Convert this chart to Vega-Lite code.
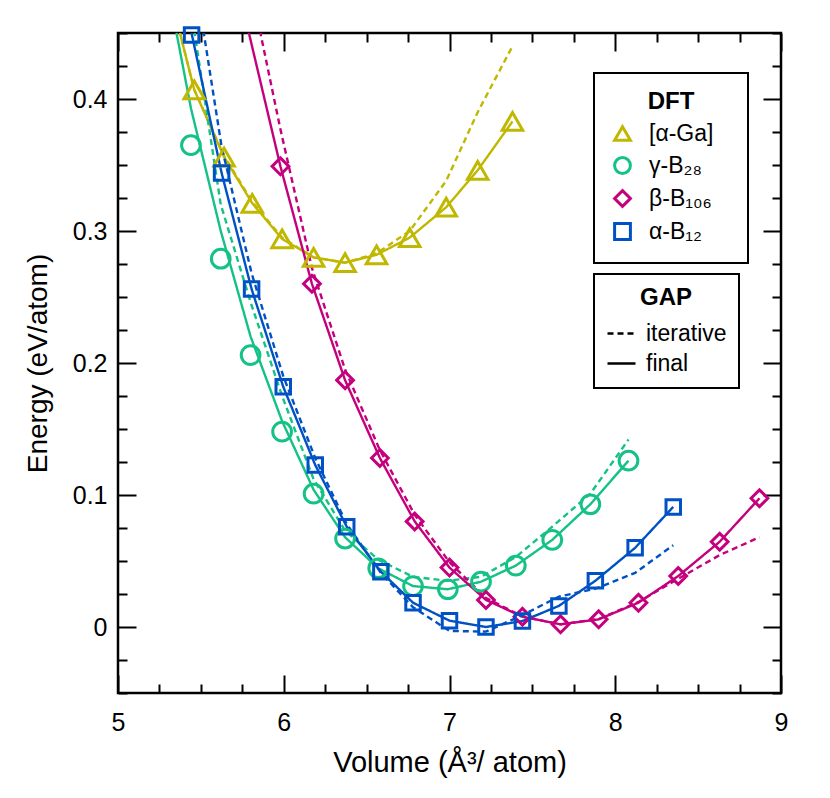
{
  "$schema": "https://vega.github.io/schema/vega-lite/v6.json",
  "width": 663,
  "height": 660,
  "autosize": {"type": "none"},
  "padding": {"left": 118, "top": 33, "right": 49, "bottom": 105},
  "background": "white",
  "config": {
    "font": "Liberation Sans",
    "view": {"stroke": "black", "strokeWidth": 2.5},
    "axis": {
      "domain": false,
      "grid": false,
      "tickColor": "black",
      "tickWidth": 2,
      "labelColor": "black",
      "labelFont": "Liberation Sans",
      "labelFontSize": 25,
      "titleFont": "Liberation Sans",
      "titleFontSize": 28,
      "titleFontWeight": "normal",
      "titleColor": "black"
    },
    "legend": {
      "strokeColor": "black",
      "strokeWidth": 2,
      "fillColor": "white",
      "cornerRadius": 0,
      "titleFont": "Liberation Sans",
      "titleFontSize": 24,
      "titleFontWeight": "bold",
      "titleColor": "black",
      "titleAnchor": "middle",
      "titlePadding": 8,
      "labelFont": "Liberation Sans",
      "labelFontSize": 23,
      "labelColor": "black",
      "padding": 12
    }
  },
  "datasets": {
    "dft": [
      {"phase": "[α-Ga]", "V": 5.46, "E": 0.407},
      {"phase": "[α-Ga]", "V": 5.64, "E": 0.356},
      {"phase": "[α-Ga]", "V": 5.81, "E": 0.321},
      {"phase": "[α-Ga]", "V": 5.99, "E": 0.294},
      {"phase": "[α-Ga]", "V": 6.18, "E": 0.280},
      {"phase": "[α-Ga]", "V": 6.37, "E": 0.276},
      {"phase": "[α-Ga]", "V": 6.56, "E": 0.282},
      {"phase": "[α-Ga]", "V": 6.76, "E": 0.295},
      {"phase": "[α-Ga]", "V": 6.98, "E": 0.318},
      {"phase": "[α-Ga]", "V": 7.17, "E": 0.346},
      {"phase": "[α-Ga]", "V": 7.38, "E": 0.383},
      {"phase": "γ-B₂₈", "V": 5.44, "E": 0.365},
      {"phase": "γ-B₂₈", "V": 5.62, "E": 0.279},
      {"phase": "γ-B₂₈", "V": 5.80, "E": 0.206},
      {"phase": "γ-B₂₈", "V": 5.99, "E": 0.148},
      {"phase": "γ-B₂₈", "V": 6.18, "E": 0.101},
      {"phase": "γ-B₂₈", "V": 6.37, "E": 0.067},
      {"phase": "γ-B₂₈", "V": 6.57, "E": 0.0445},
      {"phase": "γ-B₂₈", "V": 6.78, "E": 0.031},
      {"phase": "γ-B₂₈", "V": 6.99, "E": 0.0286},
      {"phase": "γ-B₂₈", "V": 7.19, "E": 0.0343},
      {"phase": "γ-B₂₈", "V": 7.40, "E": 0.0465},
      {"phase": "γ-B₂₈", "V": 7.62, "E": 0.066},
      {"phase": "γ-B₂₈", "V": 7.85, "E": 0.093},
      {"phase": "γ-B₂₈", "V": 8.08, "E": 0.126},
      {"phase": "β-B₁₀₆", "V": 5.98, "E": 0.349},
      {"phase": "β-B₁₀₆", "V": 6.17, "E": 0.260},
      {"phase": "β-B₁₀₆", "V": 6.37, "E": 0.187},
      {"phase": "β-B₁₀₆", "V": 6.58, "E": 0.128},
      {"phase": "β-B₁₀₆", "V": 6.79, "E": 0.080},
      {"phase": "β-B₁₀₆", "V": 7.00, "E": 0.045},
      {"phase": "β-B₁₀₆", "V": 7.22, "E": 0.0205},
      {"phase": "β-B₁₀₆", "V": 7.44, "E": 0.0078},
      {"phase": "β-B₁₀₆", "V": 7.67, "E": 0.002},
      {"phase": "β-B₁₀₆", "V": 7.90, "E": 0.0058},
      {"phase": "β-B₁₀₆", "V": 8.14, "E": 0.0184},
      {"phase": "β-B₁₀₆", "V": 8.38, "E": 0.0386},
      {"phase": "β-B₁₀₆", "V": 8.63, "E": 0.0646},
      {"phase": "β-B₁₀₆", "V": 8.87, "E": 0.0975},
      {"phase": "α-B₁₂", "V": 5.444, "E": 0.4485},
      {"phase": "α-B₁₂", "V": 5.625, "E": 0.344},
      {"phase": "α-B₁₂", "V": 5.806, "E": 0.256},
      {"phase": "α-B₁₂", "V": 5.997, "E": 0.182},
      {"phase": "α-B₁₂", "V": 6.19, "E": 0.1227},
      {"phase": "α-B₁₂", "V": 6.38, "E": 0.076},
      {"phase": "α-B₁₂", "V": 6.586, "E": 0.0419},
      {"phase": "α-B₁₂", "V": 6.78, "E": 0.0184},
      {"phase": "α-B₁₂", "V": 7.0, "E": 0.0048},
      {"phase": "α-B₁₂", "V": 7.22, "E": 0.0},
      {"phase": "α-B₁₂", "V": 7.44, "E": 0.0045},
      {"phase": "α-B₁₂", "V": 7.66, "E": 0.016},
      {"phase": "α-B₁₂", "V": 7.88, "E": 0.035},
      {"phase": "α-B₁₂", "V": 8.12, "E": 0.060},
      {"phase": "α-B₁₂", "V": 8.35, "E": 0.091}
    ],
    "gap": [
      {"phase": "[α-Ga]", "gap": "final", "V": 5.37, "E": 0.452},
      {"phase": "[α-Ga]", "gap": "final", "V": 5.46, "E": 0.407},
      {"phase": "[α-Ga]", "gap": "final", "V": 5.64, "E": 0.356},
      {"phase": "[α-Ga]", "gap": "final", "V": 5.81, "E": 0.321},
      {"phase": "[α-Ga]", "gap": "final", "V": 5.99, "E": 0.294},
      {"phase": "[α-Ga]", "gap": "final", "V": 6.18, "E": 0.280},
      {"phase": "[α-Ga]", "gap": "final", "V": 6.37, "E": 0.276},
      {"phase": "[α-Ga]", "gap": "final", "V": 6.56, "E": 0.282},
      {"phase": "[α-Ga]", "gap": "final", "V": 6.76, "E": 0.295},
      {"phase": "[α-Ga]", "gap": "final", "V": 6.98, "E": 0.318},
      {"phase": "[α-Ga]", "gap": "final", "V": 7.17, "E": 0.346},
      {"phase": "[α-Ga]", "gap": "final", "V": 7.38, "E": 0.383},
      {"phase": "[α-Ga]", "gap": "iterative", "V": 5.37, "E": 0.452},
      {"phase": "[α-Ga]", "gap": "iterative", "V": 5.46, "E": 0.407},
      {"phase": "[α-Ga]", "gap": "iterative", "V": 5.64, "E": 0.357},
      {"phase": "[α-Ga]", "gap": "iterative", "V": 5.81, "E": 0.322},
      {"phase": "[α-Ga]", "gap": "iterative", "V": 5.99, "E": 0.295},
      {"phase": "[α-Ga]", "gap": "iterative", "V": 6.18, "E": 0.280},
      {"phase": "[α-Ga]", "gap": "iterative", "V": 6.37, "E": 0.276},
      {"phase": "[α-Ga]", "gap": "iterative", "V": 6.56, "E": 0.283},
      {"phase": "[α-Ga]", "gap": "iterative", "V": 6.76, "E": 0.300},
      {"phase": "[α-Ga]", "gap": "iterative", "V": 6.98, "E": 0.338},
      {"phase": "[α-Ga]", "gap": "iterative", "V": 7.17, "E": 0.390},
      {"phase": "[α-Ga]", "gap": "iterative", "V": 7.38, "E": 0.440},
      {"phase": "γ-B₂₈", "gap": "final", "V": 5.35, "E": 0.452},
      {"phase": "γ-B₂₈", "gap": "final", "V": 5.44, "E": 0.393},
      {"phase": "γ-B₂₈", "gap": "final", "V": 5.62, "E": 0.300},
      {"phase": "γ-B₂₈", "gap": "final", "V": 5.80, "E": 0.220},
      {"phase": "γ-B₂₈", "gap": "final", "V": 5.99, "E": 0.156},
      {"phase": "γ-B₂₈", "gap": "final", "V": 6.18, "E": 0.104},
      {"phase": "γ-B₂₈", "gap": "final", "V": 6.37, "E": 0.068},
      {"phase": "γ-B₂₈", "gap": "final", "V": 6.57, "E": 0.0445},
      {"phase": "γ-B₂₈", "gap": "final", "V": 6.78, "E": 0.031},
      {"phase": "γ-B₂₈", "gap": "final", "V": 6.99, "E": 0.0286},
      {"phase": "γ-B₂₈", "gap": "final", "V": 7.19, "E": 0.0343},
      {"phase": "γ-B₂₈", "gap": "final", "V": 7.40, "E": 0.0465},
      {"phase": "γ-B₂₈", "gap": "final", "V": 7.62, "E": 0.066},
      {"phase": "γ-B₂₈", "gap": "final", "V": 7.85, "E": 0.093},
      {"phase": "γ-B₂₈", "gap": "final", "V": 8.08, "E": 0.126},
      {"phase": "γ-B₂₈", "gap": "iterative", "V": 5.46, "E": 0.452},
      {"phase": "γ-B₂₈", "gap": "iterative", "V": 5.62, "E": 0.320},
      {"phase": "γ-B₂₈", "gap": "iterative", "V": 5.80, "E": 0.246},
      {"phase": "γ-B₂₈", "gap": "iterative", "V": 5.99, "E": 0.175},
      {"phase": "γ-B₂₈", "gap": "iterative", "V": 6.18, "E": 0.112},
      {"phase": "γ-B₂₈", "gap": "iterative", "V": 6.37, "E": 0.073},
      {"phase": "γ-B₂₈", "gap": "iterative", "V": 6.57, "E": 0.051},
      {"phase": "γ-B₂₈", "gap": "iterative", "V": 6.78, "E": 0.038},
      {"phase": "γ-B₂₈", "gap": "iterative", "V": 6.99, "E": 0.035},
      {"phase": "γ-B₂₈", "gap": "iterative", "V": 7.19, "E": 0.038},
      {"phase": "γ-B₂₈", "gap": "iterative", "V": 7.40, "E": 0.053},
      {"phase": "γ-B₂₈", "gap": "iterative", "V": 7.62, "E": 0.076},
      {"phase": "γ-B₂₈", "gap": "iterative", "V": 7.85, "E": 0.101},
      {"phase": "γ-B₂₈", "gap": "iterative", "V": 8.08, "E": 0.142},
      {"phase": "β-B₁₀₆", "gap": "final", "V": 5.786, "E": 0.452},
      {"phase": "β-B₁₀₆", "gap": "final", "V": 5.98, "E": 0.349},
      {"phase": "β-B₁₀₆", "gap": "final", "V": 6.17, "E": 0.260},
      {"phase": "β-B₁₀₆", "gap": "final", "V": 6.37, "E": 0.187},
      {"phase": "β-B₁₀₆", "gap": "final", "V": 6.58, "E": 0.128},
      {"phase": "β-B₁₀₆", "gap": "final", "V": 6.79, "E": 0.080},
      {"phase": "β-B₁₀₆", "gap": "final", "V": 7.00, "E": 0.045},
      {"phase": "β-B₁₀₆", "gap": "final", "V": 7.22, "E": 0.0205},
      {"phase": "β-B₁₀₆", "gap": "final", "V": 7.44, "E": 0.0078},
      {"phase": "β-B₁₀₆", "gap": "final", "V": 7.67, "E": 0.002},
      {"phase": "β-B₁₀₆", "gap": "final", "V": 7.90, "E": 0.0058},
      {"phase": "β-B₁₀₆", "gap": "final", "V": 8.14, "E": 0.0184},
      {"phase": "β-B₁₀₆", "gap": "final", "V": 8.38, "E": 0.0386},
      {"phase": "β-B₁₀₆", "gap": "final", "V": 8.63, "E": 0.0646},
      {"phase": "β-B₁₀₆", "gap": "final", "V": 8.87, "E": 0.0975},
      {"phase": "β-B₁₀₆", "gap": "iterative", "V": 5.856, "E": 0.452},
      {"phase": "β-B₁₀₆", "gap": "iterative", "V": 5.98, "E": 0.377},
      {"phase": "β-B₁₀₆", "gap": "iterative", "V": 6.17, "E": 0.272},
      {"phase": "β-B₁₀₆", "gap": "iterative", "V": 6.37, "E": 0.195},
      {"phase": "β-B₁₀₆", "gap": "iterative", "V": 6.58, "E": 0.134},
      {"phase": "β-B₁₀₆", "gap": "iterative", "V": 6.79, "E": 0.085},
      {"phase": "β-B₁₀₆", "gap": "iterative", "V": 7.00, "E": 0.049},
      {"phase": "β-B₁₀₆", "gap": "iterative", "V": 7.22, "E": 0.022},
      {"phase": "β-B₁₀₆", "gap": "iterative", "V": 7.44, "E": 0.008},
      {"phase": "β-B₁₀₆", "gap": "iterative", "V": 7.67, "E": 0.002},
      {"phase": "β-B₁₀₆", "gap": "iterative", "V": 7.90, "E": 0.006},
      {"phase": "β-B₁₀₆", "gap": "iterative", "V": 8.14, "E": 0.019},
      {"phase": "β-B₁₀₆", "gap": "iterative", "V": 8.38, "E": 0.0365},
      {"phase": "β-B₁₀₆", "gap": "iterative", "V": 8.63, "E": 0.0545},
      {"phase": "β-B₁₀₆", "gap": "iterative", "V": 8.87, "E": 0.068},
      {"phase": "α-B₁₂", "gap": "final", "V": 5.435, "E": 0.455},
      {"phase": "α-B₁₂", "gap": "final", "V": 5.625, "E": 0.344},
      {"phase": "α-B₁₂", "gap": "final", "V": 5.806, "E": 0.256},
      {"phase": "α-B₁₂", "gap": "final", "V": 5.997, "E": 0.182},
      {"phase": "α-B₁₂", "gap": "final", "V": 6.19, "E": 0.1227},
      {"phase": "α-B₁₂", "gap": "final", "V": 6.38, "E": 0.076},
      {"phase": "α-B₁₂", "gap": "final", "V": 6.586, "E": 0.0419},
      {"phase": "α-B₁₂", "gap": "final", "V": 6.78, "E": 0.0184},
      {"phase": "α-B₁₂", "gap": "final", "V": 7.0, "E": 0.0048},
      {"phase": "α-B₁₂", "gap": "final", "V": 7.22, "E": 0.0},
      {"phase": "α-B₁₂", "gap": "final", "V": 7.44, "E": 0.0045},
      {"phase": "α-B₁₂", "gap": "final", "V": 7.66, "E": 0.016},
      {"phase": "α-B₁₂", "gap": "final", "V": 7.88, "E": 0.035},
      {"phase": "α-B₁₂", "gap": "final", "V": 8.12, "E": 0.060},
      {"phase": "α-B₁₂", "gap": "final", "V": 8.35, "E": 0.091},
      {"phase": "α-B₁₂", "gap": "iterative", "V": 5.515, "E": 0.452},
      {"phase": "α-B₁₂", "gap": "iterative", "V": 5.625, "E": 0.364},
      {"phase": "α-B₁₂", "gap": "iterative", "V": 5.806, "E": 0.268},
      {"phase": "α-B₁₂", "gap": "iterative", "V": 5.997, "E": 0.190},
      {"phase": "α-B₁₂", "gap": "iterative", "V": 6.19, "E": 0.128},
      {"phase": "α-B₁₂", "gap": "iterative", "V": 6.38, "E": 0.078},
      {"phase": "α-B₁₂", "gap": "iterative", "V": 6.586, "E": 0.041},
      {"phase": "α-B₁₂", "gap": "iterative", "V": 6.78, "E": 0.015},
      {"phase": "α-B₁₂", "gap": "iterative", "V": 7.0, "E": -0.003},
      {"phase": "α-B₁₂", "gap": "iterative", "V": 7.22, "E": -0.0035},
      {"phase": "α-B₁₂", "gap": "iterative", "V": 7.44, "E": 0.009},
      {"phase": "α-B₁₂", "gap": "iterative", "V": 7.66, "E": 0.023},
      {"phase": "α-B₁₂", "gap": "iterative", "V": 7.88, "E": 0.029},
      {"phase": "α-B₁₂", "gap": "iterative", "V": 8.12, "E": 0.041},
      {"phase": "α-B₁₂", "gap": "iterative", "V": 8.35, "E": 0.062}
    ]
  },
  "layer": [
    {
      "data": {"name": "gap"},
      "mark": {"type": "line", "clip": true, "strokeWidth": 2.4},
      "encoding": {
        "x": {
          "field": "V", "type": "quantitative",
          "scale": {"domain": [5, 9], "nice": false, "zero": false},
          "axis": {
            "orient": "bottom",
            "title": "Volume (Å³/ atom)",
            "titleFontSize": 29,
            "values": [5, 5.25, 5.5, 5.75, 6, 6.25, 6.5, 6.75, 7, 7.25, 7.5, 7.75, 8, 8.25, 8.5, 8.75, 9],
            "tickSize": {"condition": {"test": "abs(datum.value - round(datum.value)) < 0.000001", "value": -18}, "value": -9},
            "labelExpr": "abs(datum.value - round(datum.value)) < 0.000001 ? format(datum.value, 'd') : ''",
            "labelPadding": 35,
            "labelFlush": false,
            "titlePadding": 13
          }
        },
        "y": {
          "field": "E", "type": "quantitative",
          "scale": {"domain": [-0.05, 0.45], "nice": false, "zero": false},
          "axis": {
            "orient": "left",
            "title": "Energy (eV/atom)",
            "values": [-0.05, -0.025, 0, 0.025, 0.05, 0.075, 0.1, 0.125, 0.15, 0.175, 0.2, 0.225, 0.25, 0.275, 0.3, 0.325, 0.35, 0.375, 0.4, 0.425, 0.45],
            "tickSize": {"condition": {"test": "abs(datum.value*10 - round(datum.value*10)) < 0.000001", "value": -18}, "value": -9},
            "labelExpr": "(abs(datum.value*10 - round(datum.value*10)) < 0.000001 && datum.value > -0.01 && datum.value < 0.44) ? format(datum.value, '~g') : ''",
            "labelPadding": 29,
            "labelFlush": false,
            "titlePadding": 20
          }
        },
        "color": {
          "field": "phase", "type": "nominal",
          "scale": {"domain": ["[α-Ga]", "γ-B₂₈", "β-B₁₀₆", "α-B₁₂"], "range": ["#c0b800", "#14c285", "#c5007d", "#0052c4"]},
          "legend": null
        },
        "strokeDash": {
          "field": "gap", "type": "nominal",
          "scale": {"domain": ["iterative", "final"], "range": [[6, 4], [1, 0]]},
          "legend": {
            "title": "GAP",
            "orient": "none",
            "legendX": 476,
            "legendY": 241,
            "symbolStrokeColor": "black",
            "symbolStrokeWidth": 2.5,
            "symbolSize": 784,
            "labelOffset": 9
          }
        }
      }
    },
    {
      "data": {"name": "dft"},
      "mark": {"type": "point", "filled": false, "strokeWidth": 3, "opacity": 1},
      "encoding": {
        "x": {
          "field": "V", "type": "quantitative",
          "axis": {
            "orient": "top",
            "title": null,
            "values": [5, 5.25, 5.5, 5.75, 6, 6.25, 6.5, 6.75, 7, 7.25, 7.5, 7.75, 8, 8.25, 8.5, 8.75, 9],
            "tickSize": {"condition": {"test": "abs(datum.value - round(datum.value)) < 0.000001", "value": -18}, "value": -9},
            "labels": false
          }
        },
        "y": {
          "field": "E", "type": "quantitative",
          "axis": {
            "orient": "right",
            "title": null,
            "values": [-0.05, -0.025, 0, 0.025, 0.05, 0.075, 0.1, 0.125, 0.15, 0.175, 0.2, 0.225, 0.25, 0.275, 0.3, 0.325, 0.35, 0.375, 0.4, 0.425, 0.45],
            "tickSize": {"condition": {"test": "abs(datum.value*10 - round(datum.value*10)) < 0.000001", "value": -18}, "value": -9},
            "labels": false
          }
        },
        "color": {
          "field": "phase", "type": "nominal",
          "legend": {
            "title": "DFT",
            "orient": "none",
            "legendX": 476,
            "legendY": 40,
            "padding": 17,
            "symbolStrokeWidth": 3,
            "symbolSize": 250,
            "labelOffset": 15,
            "rowPadding": 4,
            "titlePadding": 8,
            "labelExpr": "datum.label + '\u2800'"
          }
        },
        "shape": {
          "field": "phase", "type": "nominal",
          "scale": {"domain": ["[α-Ga]", "γ-B₂₈", "β-B₁₀₆", "α-B₁₂"], "range": ["triangle-up", "circle", "diamond", "square"]},
          "legend": {
            "title": "DFT",
            "orient": "none",
            "legendX": 476,
            "legendY": 40,
            "padding": 17,
            "symbolStrokeWidth": 3,
            "symbolSize": 250,
            "labelOffset": 15,
            "rowPadding": 4,
            "titlePadding": 8,
            "labelExpr": "datum.label + '\u2800'"
          }
        },
        "size": {
          "field": "phase", "type": "nominal",
          "scale": {"domain": ["[α-Ga]", "γ-B₂₈", "β-B₁₀₆", "α-B₁₂"], "range": [420, 210, 650, 240]},
          "legend": null
        }
      }
    }
  ],
  "resolve": {
    "axis": {"x": "independent", "y": "independent"},
    "legend": {"color": "independent", "shape": "independent"}
  }
}
